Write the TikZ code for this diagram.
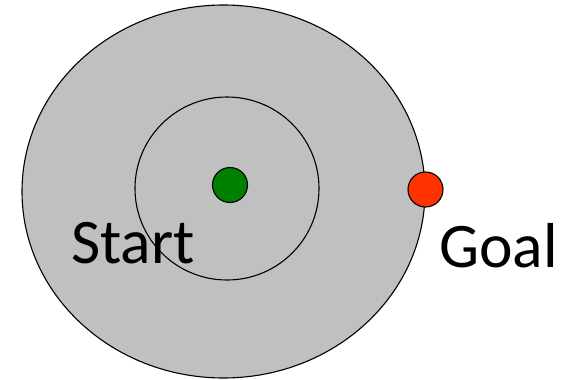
\documentclass[tikz,border=0pt]{standalone}
\usepackage{fontspec}
\setmainfont{Carlito}
\usetikzlibrary{shapes.geometric}
\definecolor{mygray}{RGB}{192,192,192}
\definecolor{mygreen}{RGB}{0,128,0}
\definecolor{myred}{RGB}{255,51,0}
\begin{document}
\begin{tikzpicture}[
      x=1pt, y=-1pt,
      ring/.style = {draw=black, ellipse, inner sep=0pt, line width=1.1pt},
      dot/.style  = {draw=black, circle, inner sep=0pt, line width=1.1pt,
                     minimum size=35pt},
      lbl/.style  = {anchor=base west, inner sep=0pt, font=\fontsize{63.5}{63.5}\selectfont},
    ]
    \useasboundingbox (0,0) rectangle (571,380);
    \node[ring, fill=mygray, minimum width=403pt, minimum height=373pt] (outer) at (223.5,191.5) {};
    \node[ring, minimum width=184pt, minimum height=183pt] (inner) at (227,188.5) {};
    \node[dot, fill=mygreen] (start) at (230,185) {};
    \node[dot, fill=myred] (goal) at (425.5,189.5) {};
    \node[lbl] (startlbl) at (71,263) {Start};
    \node[lbl] (goallbl) at (439,267) {Goal};
  \end{tikzpicture}
\end{document}
